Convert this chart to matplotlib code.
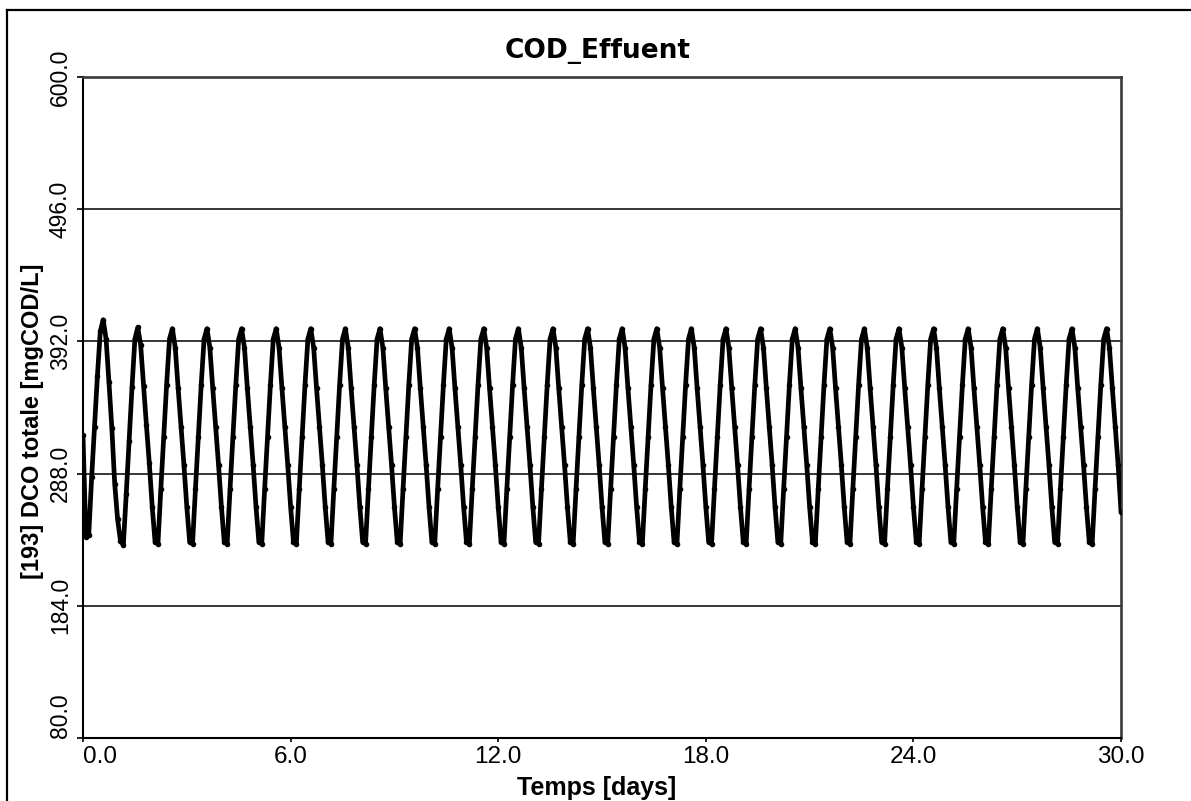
import matplotlib
matplotlib.use("Agg")
import matplotlib.pyplot as plt
import numpy as np
from matplotlib import font_manager as fm
from matplotlib.lines import Line2D

# ---------------- data (one row per day, 2-hour samples) ----------------
samples_per_day = 12
cod_rows = [
    [318, 238, 240, 285, 325, 365, 400, 409, 394, 360, 324, 280],  # day 0
    [252, 235, 232, 272, 314, 356, 394, 403, 389, 357, 326, 296],  # day 1
    [262, 234, 233, 276, 317, 358, 394, 402, 387, 355, 325, 295],  # day 2
    [262, 234, 233, 276, 317, 358, 394, 402, 387, 355, 325, 295],
    [262, 234, 233, 276, 317, 358, 394, 402, 387, 355, 325, 295],
    [262, 234, 233, 276, 317, 358, 394, 402, 387, 355, 325, 295],
    [262, 234, 233, 276, 317, 358, 394, 402, 387, 355, 325, 295],
    [262, 234, 233, 276, 317, 358, 394, 402, 387, 355, 325, 295],
    [262, 234, 233, 276, 317, 358, 394, 402, 387, 355, 325, 295],
    [262, 234, 233, 276, 317, 358, 394, 402, 387, 355, 325, 295],
    [262, 234, 233, 276, 317, 358, 394, 402, 387, 355, 325, 295],  # day 10
    [262, 234, 233, 276, 317, 358, 394, 402, 387, 355, 325, 295],
    [262, 234, 233, 276, 317, 358, 394, 402, 387, 355, 325, 295],
    [262, 234, 233, 276, 317, 358, 394, 402, 387, 355, 325, 295],
    [262, 234, 233, 276, 317, 358, 394, 402, 387, 355, 325, 295],
    [262, 234, 233, 276, 317, 358, 394, 402, 387, 355, 325, 295],
    [262, 234, 233, 276, 317, 358, 394, 402, 387, 355, 325, 295],
    [262, 234, 233, 276, 317, 358, 394, 402, 387, 355, 325, 295],
    [262, 234, 233, 276, 317, 358, 394, 402, 387, 355, 325, 295],
    [262, 234, 233, 276, 317, 358, 394, 402, 387, 355, 325, 295],
    [262, 234, 233, 276, 317, 358, 394, 402, 387, 355, 325, 295],  # day 20
    [262, 234, 233, 276, 317, 358, 394, 402, 387, 355, 325, 295],
    [262, 234, 233, 276, 317, 358, 394, 402, 387, 355, 325, 295],
    [262, 234, 233, 276, 317, 358, 394, 402, 387, 355, 325, 295],
    [262, 234, 233, 276, 317, 358, 394, 402, 387, 355, 325, 295],
    [262, 234, 233, 276, 317, 358, 394, 402, 387, 355, 325, 295],
    [262, 234, 233, 276, 317, 358, 394, 402, 387, 355, 325, 295],
    [262, 234, 233, 276, 317, 358, 394, 402, 387, 355, 325, 295],
    [262, 234, 233, 276, 317, 358, 394, 402, 387, 355, 325, 295],
    [262, 234, 233, 276, 317, 358, 394, 402, 387, 355, 325, 295],  # day 29
]
cod_final = [258]  # t = 30.0 days
cod_effluent = [v for row in cod_rows for v in row] + cod_final
time_days = np.arange(len(cod_effluent)) / samples_per_day

x_ticks = [0, 6, 12, 18, 24, 30]
x_tick_labels = ["0.0", "6.0", "12.0", "18.0", "24.0", "30.0"]
y_ticks = [80, 184, 288, 392, 496, 600]
y_tick_labels = ["80.0", "184.0", "288.0", "392.0", "496.0", "600.0"]

title_text = "COD_Effuent"
x_label_text = "Temps [days]"
y_label_text = "[193] DCO totale [mgCOD/L]"

# ---------------- fonts ----------------
names = {f.name for f in fm.fontManager.ttflist}
base_font = "Liberation Sans" if "Liberation Sans" in names else "DejaVu Sans"
narrow_font = "Liberation Sans Narrow" if "Liberation Sans Narrow" in names else None

# ---------------- figure ----------------
W, H = 1191, 801
fig = plt.figure(figsize=(W / 100, H / 100), dpi=100)
fig.patch.set_facecolor("white")

ax_left, ax_right, ax_top, ax_bottom = 83, 1121, 77, 738
ax = fig.add_axes([ax_left / W, 1 - ax_bottom / H,
                   (ax_right - ax_left) / W, (ax_bottom - ax_top) / H])

for y in y_ticks[1:-1]:
    ax.axhline(y, color="black", lw=1.1, zorder=1)

ax.plot(time_days, cod_effluent, color="black", lw=3.4, marker="o", ms=3.0,
        solid_joinstyle="round", solid_capstyle="round", zorder=3)

ax.set_xlim(0, 30)
ax.set_ylim(80, 600)

ax.set_xticks(x_ticks)
ax.set_xticklabels(x_tick_labels, fontsize=17.5, family=base_font)
ax.set_yticks(y_ticks)
if narrow_font:
    ax.set_yticklabels(y_tick_labels, fontsize=19, family=narrow_font,
                       rotation=90, va="center")
else:
    ax.set_yticklabels(y_tick_labels, fontsize=16.5, family=base_font,
                       rotation=90, va="center")
ax.get_xticklabels()[0].set_ha("left")
ax.get_yticklabels()[0].set_va("bottom")

ax.tick_params(axis="x", direction="out", length=3, width=1.2, pad=3, colors="black")
ax.tick_params(axis="y", direction="out", length=4, width=1.2, pad=4, colors="black")

for side in ["left", "bottom"]:
    ax.spines[side].set_color("black")
    ax.spines[side].set_linewidth(1.5)
for side in ["top", "right"]:
    ax.spines[side].set_color("#3a3a3a")
    ax.spines[side].set_linewidth(1.9)

# title and axis labels placed in figure pixel positions
fig.text(598 / W, 1 - 58 / H, title_text, ha="center", va="baseline",
         fontsize=19, fontweight="bold", family="DejaVu Sans")
fig.text(597 / W, 1 - 795 / H, x_label_text, ha="center", va="baseline",
         fontsize=18, fontweight="bold", family=base_font)
fig.text(33 / W, 1 - 421 / H, y_label_text, ha="center", va="center",
         rotation=90, fontsize=17, fontweight="bold", family=base_font)

# outer frame (top and left visible)
fig.add_artist(Line2D([7 / W, 7 / W], [0, 1 - 10 / H], transform=fig.transFigure,
                      color="black", lw=1.6))
fig.add_artist(Line2D([7 / W, 1], [1 - 10 / H, 1 - 10 / H], transform=fig.transFigure,
                      color="black", lw=1.6))

fig.savefig("out.png", dpi=100, facecolor="white")
